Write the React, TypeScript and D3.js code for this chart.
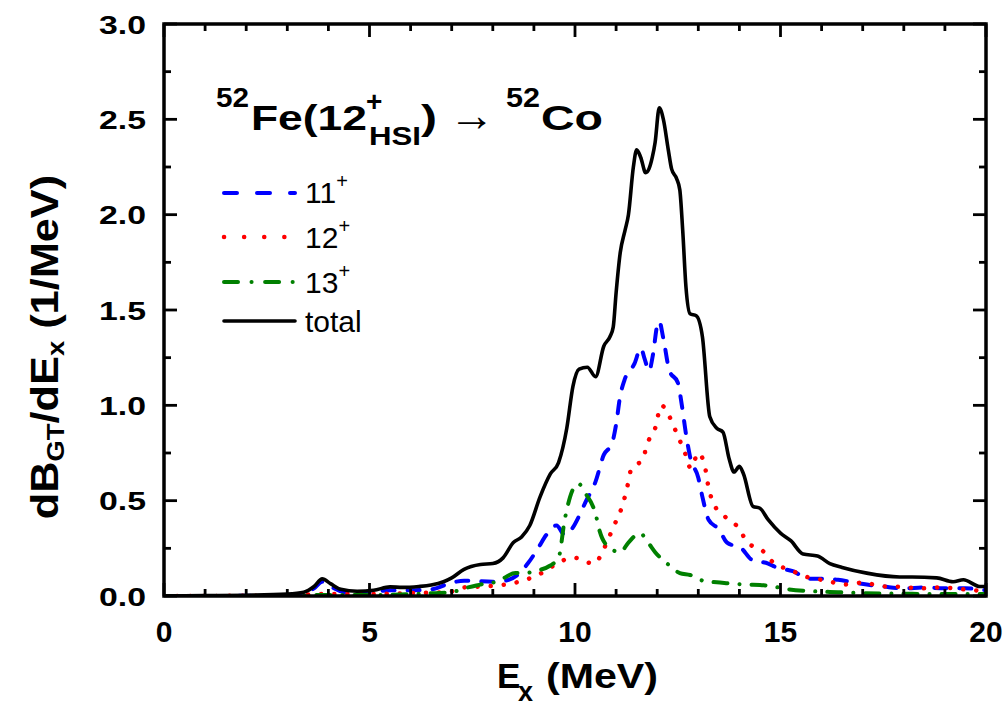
import React from "react";
import * as d3 from "d3";

// ---- data (E_x in MeV, dB/dE in 1/MeV) ----
const totalCurve: [number, number][] = [
  [0, 0.0], [1, 0.002], [2, 0.004], [3, 0.01], [3.4, 0.02], [3.65, 0.05], [3.85, 0.09], [4.05, 0.065],
  [4.3, 0.035], [4.7, 0.025], [5.1, 0.03], [5.5, 0.048], [5.8, 0.045], [6.2, 0.05], [6.5, 0.058],
  [6.8, 0.075], [7.0, 0.095], [7.3, 0.14], [7.7, 0.165], [8.0, 0.17], [8.25, 0.2], [8.5, 0.28],
  [8.7, 0.31], [8.9, 0.37], [9.15, 0.52], [9.4, 0.64], [9.6, 0.7], [9.8, 0.88], [9.95, 1.1],
  [10.1, 1.19], [10.3, 1.2], [10.5, 1.15], [10.7, 1.31], [10.85, 1.36], [10.93, 1.41], [11.0, 1.59],
  [11.1, 1.8], [11.22, 1.92], [11.3, 2.0], [11.42, 2.25], [11.5, 2.34], [11.6, 2.3], [11.72, 2.22],
  [11.8, 2.24], [11.88, 2.3], [11.95, 2.38], [12.05, 2.56], [12.15, 2.5], [12.27, 2.34], [12.35, 2.24],
  [12.47, 2.19], [12.55, 2.13], [12.62, 1.92], [12.7, 1.62], [12.8, 1.48], [12.95, 1.47], [13.1, 1.36],
  [13.28, 0.94], [13.45, 0.88], [13.6, 0.86], [13.75, 0.72], [13.87, 0.65], [14.0, 0.68], [14.1, 0.64],
  [14.33, 0.47], [14.5, 0.46], [14.7, 0.4], [15.0, 0.33], [15.25, 0.29], [15.55, 0.22], [15.9, 0.21],
  [16.2, 0.17], [16.5, 0.15], [17.1, 0.12], [17.9, 0.1], [18.2, 0.1], [18.8, 0.095], [19.2, 0.075],
  [19.45, 0.085], [19.85, 0.05], [20, 0.05],
];

const spin11Curve: [number, number][] = [
  [0, 0.0], [2, 0.001], [3, 0.005], [3.4, 0.015], [3.65, 0.04], [3.85, 0.075], [4.05, 0.05], [4.4, 0.02],
  [5, 0.02], [5.5, 0.03], [6.0, 0.03], [6.5, 0.035], [7.0, 0.07], [7.3, 0.08], [8.0, 0.075], [8.3, 0.08],
  [8.6, 0.11], [8.85, 0.17], [9.1, 0.25], [9.3, 0.32], [9.55, 0.37], [9.75, 0.32], [9.95, 0.36],
  [10.1, 0.42], [10.25, 0.49], [10.5, 0.6], [10.7, 0.74], [10.9, 0.8], [11.0, 0.9], [11.1, 1.05],
  [11.2, 1.13], [11.45, 1.22], [11.6, 1.3], [11.7, 1.24], [11.8, 1.18], [11.9, 1.27], [12.0, 1.42],
  [12.05, 1.44], [12.15, 1.35], [12.3, 1.18], [12.5, 1.12], [12.6, 1.0], [12.7, 0.85], [12.8, 0.73],
  [13.0, 0.62], [13.1, 0.52], [13.25, 0.4], [13.5, 0.35], [13.7, 0.28], [14.05, 0.25], [14.3, 0.19],
  [14.7, 0.17], [14.9, 0.15], [15.3, 0.13], [15.7, 0.09], [16.0, 0.09], [16.4, 0.085], [16.8, 0.07],
  [17.1, 0.06], [17.5, 0.05], [18.0, 0.04], [18.5, 0.045], [19.0, 0.04], [19.5, 0.04], [20, 0.03],
];

const spin12Curve: [number, number][] = [
  [0, 0.0], [3, 0.002], [3.85, 0.01], [5, 0.01], [6, 0.015], [6.9, 0.02], [7.3, 0.045], [7.8, 0.05],
  [8.3, 0.06], [8.8, 0.085], [9.27, 0.13], [9.63, 0.18], [10.0, 0.2], [10.25, 0.18], [10.46, 0.17],
  [10.73, 0.26], [10.93, 0.36], [11.13, 0.46], [11.26, 0.56], [11.36, 0.66], [11.5, 0.69], [11.63, 0.71],
  [11.78, 0.81], [11.95, 0.88], [12.1, 1.0], [12.3, 0.94], [12.48, 0.85], [12.66, 0.76], [12.82, 0.67],
  [13.0, 0.75], [13.16, 0.68], [13.24, 0.58], [13.36, 0.49], [13.68, 0.41], [13.97, 0.36], [14.2, 0.28],
  [14.55, 0.24], [14.85, 0.17], [15.2, 0.14], [15.64, 0.1], [16.13, 0.08], [16.57, 0.06], [17.0, 0.07],
  [17.5, 0.05], [17.9, 0.048], [18.5, 0.04], [18.9, 0.045], [19.45, 0.035], [20, 0.025],
];

const spin13Curve: [number, number][] = [
  [0, 0.0], [3, 0.001], [3.85, 0.005], [5, 0.005], [6, 0.01], [6.6, 0.015], [7.0, 0.02], [7.3, 0.04],
  [7.6, 0.055], [7.8, 0.065], [8.1, 0.075], [8.55, 0.12], [8.8, 0.12], [9.0, 0.13], [9.4, 0.16],
  [9.6, 0.2], [9.75, 0.4], [9.95, 0.56], [10.08, 0.59], [10.25, 0.54], [10.5, 0.43], [10.6, 0.34],
  [10.8, 0.26], [11.1, 0.23], [11.3, 0.28], [11.58, 0.33], [11.78, 0.28], [11.95, 0.23], [12.3, 0.16],
  [12.55, 0.12], [12.8, 0.11], [13.2, 0.075], [13.45, 0.072], [13.8, 0.065], [14.2, 0.06], [14.5, 0.058],
  [14.8, 0.05], [15.2, 0.035], [15.8, 0.025], [16.4, 0.02], [17, 0.015], [18, 0.012], [19, 0.01], [20, 0.01],
];

const xMajorTicks = [0, 5, 10, 15, 20];
const xMinorTicks = d3.range(0, 20.01, 1);
const yMajorTicks = [0, 0.5, 1.0, 1.5, 2.0, 2.5, 3.0];
const yMinorTicks = d3.range(0, 3.001, 0.25);

const legendLabels = ["11", "12", "13", "total"];

const FONT = "'Liberation Sans', Arial, Helvetica, sans-serif";

export default function App() {
  const left = 164, right = 986, top = 24, bottom = 596;
  const x = d3.scaleLinear().domain([0, 20]).range([left, right]);
  const y = d3.scaleLinear().domain([0, 3]).range([bottom, top]);
  const line = d3
    .line<[number, number]>()
    .x((d) => x(d[0]))
    .y((d) => y(d[1]))
    .curve(d3.curveMonotoneX);

  const series = [
    { data: spin11Curve, color: "#0000ff", dash: "12 13", width: 4, cap: "round" },
    { data: spin12Curve, color: "#ff0000", dash: "0.1 13", width: 4.5, cap: "round" },
    { data: spin13Curve, color: "#008000", dash: "14 12 0.1 12", width: 4, cap: "round" },
    { data: totalCurve, color: "#000000", dash: "none", width: 3.6, cap: "round" },
  ];
  const legendDash = ["13 20", "0.1 20", "14 13.5 0.1 13.5", "none"];
  const legendY = [193, 237, 282, 321];
  const legendTextY = [203, 248, 293, 332];

  return (
    <svg
      width={1004}
      height={709}
      style={{ position: "absolute", left: 0, top: 0, background: "#fff" }}
      fontFamily={FONT}
    >
      <rect x={0} y={0} width={1004} height={709} fill="#fff" />
      <defs>
        <clipPath id="plotclip">
          <rect x={left} y={top - 5} width={right - left} height={bottom - top + 5} />
        </clipPath>
      </defs>

      {/* curves */}
      <g clipPath="url(#plotclip)">
        {series.map((s, i) => (
          <path
            key={i}
            d={line(s.data) || ""}
            fill="none"
            stroke={s.color}
            strokeWidth={s.width}
            strokeDasharray={s.dash}
            strokeLinecap={s.cap as any}
            strokeLinejoin="round"
          />
        ))}
      </g>

      {/* frame */}
      <rect x={left} y={top} width={right - left} height={bottom - top} fill="none" stroke="#000" strokeWidth={3.5} />

      {/* x ticks */}
      {xMinorTicks.map((t) => {
        const major = xMajorTicks.includes(t);
        const len = major ? 13 : 7;
        return (
          <g key={"xt" + t}>
            <line x1={x(t)} x2={x(t)} y1={bottom} y2={bottom - len} stroke="#000" strokeWidth={2.8} />
            <line x1={x(t)} x2={x(t)} y1={top} y2={top + len} stroke="#000" strokeWidth={2.8} />
          </g>
        );
      })}
      {/* y ticks */}
      {yMinorTicks.map((t) => {
        const major = yMajorTicks.some((m) => Math.abs(m - t) < 1e-6);
        const len = major ? 13 : 7;
        return (
          <g key={"yt" + t}>
            <line x1={left} x2={left + len} y1={y(t)} y2={y(t)} stroke="#000" strokeWidth={2.8} />
            <line x1={right} x2={right - len} y1={y(t)} y2={y(t)} stroke="#000" strokeWidth={2.8} />
          </g>
        );
      })}

      {/* tick labels */}
      {xMajorTicks.map((t) => (
        <text key={"xl" + t} x={x(t)} y={642} textAnchor="middle" fontSize={30} fontWeight="bold">
          {t}
        </text>
      ))}
      {yMajorTicks.map((t) => (
        <text
          key={"yl" + t}
          x={146}
          y={y(t) + 9.5}
          textAnchor="end"
          fontSize={26}
          fontWeight="bold"
          textLength={47}
          lengthAdjust="spacingAndGlyphs"
        >
          {t.toFixed(1)}
        </text>
      ))}

      {/* axis titles */}
      <text x={497} y={688} fontSize={35} fontWeight="bold">E</text>
      <text x={518} y={701} fontSize={27} fontWeight="bold">x</text>
      <text x={546} y={688} fontSize={35} fontWeight="bold" textLength={112} lengthAdjust="spacingAndGlyphs">
        (MeV)
      </text>

      <g transform="translate(58,347) rotate(-90) scale(1.14,1)">
        <text x={0} y={0} textAnchor="middle" fontSize={38} fontWeight="bold">
          dB<tspan fontSize={24} dy={6}>GT</tspan>
          <tspan dy={-6}>/dE</tspan>
          <tspan fontSize={24} dy={6}>x</tspan>
          <tspan dy={-6}> (1/MeV)</tspan>
        </text>
      </g>

      {/* title */}
      <g fontWeight="bold">
        <text x={216} y={107} fontSize={28} textLength={33} lengthAdjust="spacingAndGlyphs">52</text>
        <text x={251} y={130} fontSize={35} textLength={116} lengthAdjust="spacingAndGlyphs">Fe(12</text>
        <text x={366} y={111} fontSize={28}>+</text>
        <text x={369} y={145} fontSize={25} textLength={52} lengthAdjust="spacingAndGlyphs">HSI</text>
        <text x={421} y={130} fontSize={35} textLength={16} lengthAdjust="spacingAndGlyphs">)</text>
        <text x={449} y={131} fontSize={46} fontWeight="normal" textLength={46} lengthAdjust="spacingAndGlyphs">→</text>
        <text x={506} y={107} fontSize={28} textLength={34} lengthAdjust="spacingAndGlyphs">52</text>
        <text x={541} y={130} fontSize={35} textLength={62} lengthAdjust="spacingAndGlyphs">Co</text>
      </g>

      {/* legend */}
      {series.map((s, i) => (
        <g key={"lg" + i}>
          <line
            x1={224}
            x2={295}
            y1={legendY[i]}
            y2={legendY[i]}
            stroke={s.color}
            strokeWidth={s.width}
            strokeDasharray={legendDash[i]}
            strokeLinecap={s.cap as any}
          />
          <text x={305} y={legendTextY[i]} fontSize={30}>
            {legendLabels[i]}
            {i < 3 ? (
              <tspan fontSize={20} dy={-15}>+</tspan>
            ) : null}
          </text>
        </g>
      ))}
    </svg>
  );
}
